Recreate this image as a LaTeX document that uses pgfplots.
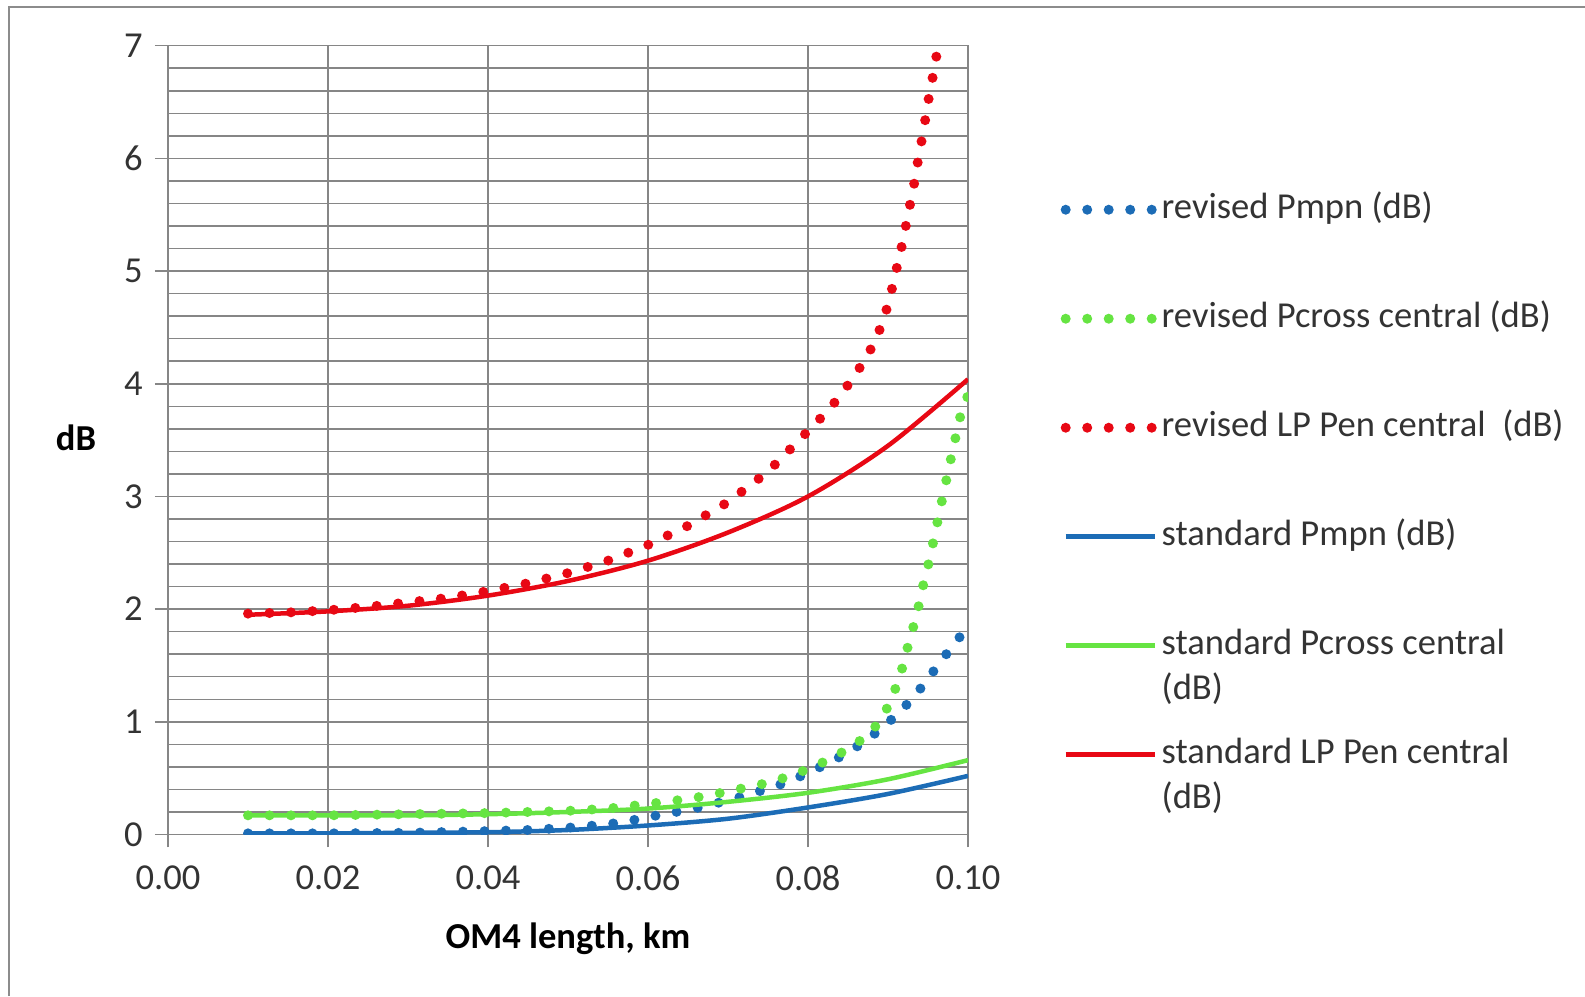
\documentclass[border=0pt]{standalone}
\usepackage{fontspec}
\setmainfont{Carlito}
\usepackage{pgfplots}
\pgfplotsset{compat=1.18}

\definecolor{sblue}{RGB}{28,108,182}
\definecolor{sgreen}{RGB}{102,228,66}
\definecolor{sred}{RGB}{232,8,20}
\definecolor{gridgray}{RGB}{134,134,134}
\definecolor{framegray}{RGB}{140,140,140}

\newcommand{\chartfont}{\fontsize{10.4}{12.7}\selectfont}

\begin{document}
\begin{tikzpicture}
\useasboundingbox (0,0) rectangle (158.5mm,99.6mm);
\draw[framegray, line width=0.2mm] (0.85mm,0) -- (0.85mm,98.9mm) -- (158.5mm,98.9mm);
\begin{axis}[
    at={(16.8mm,16.15mm)}, anchor=south west,
    scale only axis,
    width=80mm, height=78.88mm,
    xmin=0, xmax=0.1,
    ymin=0, ymax=7,
    xtick={0,0.02,0.04,0.06,0.08,0.1},
    ytick={0,1,2,3,4,5,6,7},
    minor y tick num=4,
    minor tick length=0pt,
    major tick length=1.3mm,
    tick align=outside,
    xtick pos=left, ytick pos=left,
    xmajorgrids, ymajorgrids, yminorgrids,
    grid style={gridgray, line width=0.15mm},
    minor grid style={gridgray, line width=0.15mm},
    axis line style={gridgray, line width=0.15mm},
    tick style={gridgray, line width=0.15mm},
    xticklabel style={/pgf/number format/fixed, /pgf/number format/fixed zerofill,
        /pgf/number format/precision=2, yshift=-0.6mm},
    /pgf/number format/assume math mode=true,
    tick label style={font=\chartfont, text=black!80},
    xlabel={\textbf{OM4 length, km}},
    ylabel={\textbf{dB}},
    every axis x label/.style={at={(axis description cs:0.5,-0.1325)}, anchor=center, font=\chartfont},
    every axis y label/.style={at={(axis description cs:-0.115,0.503)}, anchor=center, font=\chartfont},
    clip mode=individual,
    legend cell align=left,
    legend image code/.code={\draw[#1] (0mm,0.05mm) -- (8.9mm,0.05mm);},
    legend style={draw=none, fill=none, inner sep=0pt, at={(1.115,0.8145)}, anchor=north west,
        font=\chartfont, row sep=7.4mm, column sep=0.2mm,
        nodes={inner sep=0pt, text height=2.6mm, text depth=0.9mm, text=black!80}},
    dotted series/.style={line width=1.0mm, line cap=round, dash pattern=on 0pt off 2.15mm},
    solid series/.style={line width=0.45mm, line join=round},
]

% revised Pmpn
\addplot[sblue, dotted series] coordinates {
 (0.010,0.01) (0.020,0.01) (0.030,0.015) (0.040,0.03) (0.045,0.04) (0.050,0.06)
 (0.055,0.09) (0.060,0.15) (0.0617,0.18) (0.0644,0.21) (0.0671,0.25) (0.0698,0.30)
 (0.0725,0.35) (0.075,0.41) (0.0777,0.47) (0.080,0.55) (0.0825,0.63) (0.085,0.73)
 (0.0872,0.83) (0.0893,0.95) (0.0914,1.08) (0.0932,1.22) (0.0949,1.37) (0.0965,1.53)
 (0.0983,1.69) (0.100,1.85)
};
\addlegendentry{revised Pmpn (dB)}

% revised Pcross central
\addplot[sgreen, dotted series] coordinates {
 (0.010,0.17) (0.020,0.17) (0.030,0.18) (0.040,0.19) (0.050,0.21) (0.055,0.23)
 (0.060,0.27) (0.0644,0.31) (0.0671,0.34) (0.0698,0.38) (0.0725,0.42) (0.0751,0.46)
 (0.0778,0.52) (0.0803,0.59) (0.0828,0.67) (0.085,0.76) (0.0873,0.87) (0.0892,1.02)
 (0.0904,1.20) (0.0914,1.38) (0.0921,1.56) (0.0928,1.76) (0.0936,1.94) (0.0941,2.13)
 (0.0948,2.32) (0.0954,2.51) (0.0962,2.78) (0.097,3.05) (0.098,3.38) (0.099,3.70)
 (0.100,3.90)
};
\addlegendentry{revised Pcross central (dB)}

% revised LP Pen central
\addplot[sred, dotted series] coordinates {
 (0.010,1.96) (0.015,1.97) (0.020,1.99) (0.025,2.02) (0.030,2.06) (0.035,2.10)
 (0.040,2.16) (0.045,2.23) (0.050,2.32) (0.055,2.43) (0.060,2.57) (0.065,2.74)
 (0.070,2.95) (0.075,3.22) (0.080,3.58) (0.0822,3.74) (0.0840,3.89) (0.0856,4.05)
 (0.0871,4.21) (0.0884,4.38) (0.0894,4.56) (0.0902,4.75) (0.0908,4.94) (0.0914,5.12)
 (0.0920,5.31) (0.0925,5.51) (0.0931,5.70) (0.0935,5.88) (0.0940,6.08) (0.0945,6.27)
 (0.0949,6.46) (0.0954,6.65) (0.0959,6.84) (0.0963,7.02) (0.0970,7.40) (0.0980,8.00)
 (0.1000,9.50)
};
\addlegendentry{revised LP Pen central~ (dB)}

% standard Pmpn
\addplot[sblue, solid series, smooth] coordinates {
 (0.010,0.01) (0.020,0.01) (0.030,0.015) (0.040,0.02) (0.050,0.04)
 (0.060,0.08) (0.070,0.14) (0.080,0.24) (0.090,0.36) (0.100,0.52)
};
\addlegendentry{standard Pmpn (dB)}

% standard Pcross central
\addplot[sgreen, solid series, smooth] coordinates {
 (0.010,0.17) (0.020,0.17) (0.030,0.17) (0.040,0.18) (0.050,0.20)
 (0.060,0.23) (0.070,0.29) (0.080,0.37) (0.090,0.49) (0.100,0.66)
};
\addlegendentry{\begin{tabular}[t]{@{}l@{}}standard Pcross central\\(dB)\end{tabular}}

% standard LP Pen central
\addplot[sred, solid series, smooth] coordinates {
 (0.010,1.95) (0.020,1.98) (0.030,2.03) (0.040,2.12) (0.050,2.25)
 (0.060,2.43) (0.070,2.68) (0.080,3.00) (0.090,3.45) (0.100,4.04)
};
\addlegendentry{\begin{tabular}[t]{@{}l@{}}standard LP Pen central\\(dB)\end{tabular}}

\end{axis}
\end{tikzpicture}
\end{document}
